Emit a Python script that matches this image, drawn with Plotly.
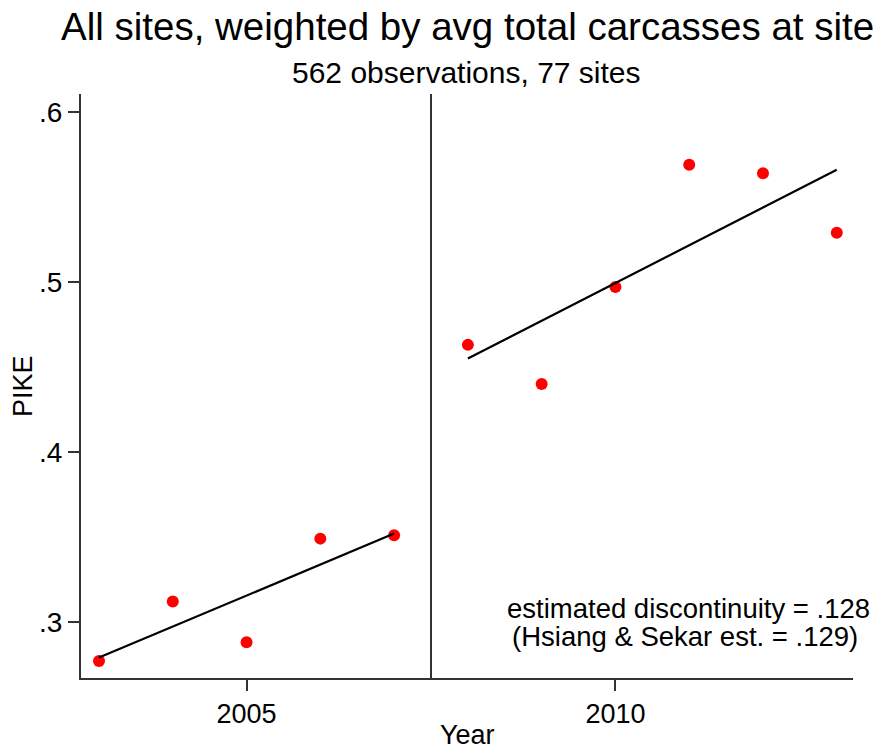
import plotly.graph_objects as go

years = [2003, 2004, 2005, 2006, 2007, 2008, 2009, 2010, 2011, 2012, 2013]
pike = [0.277, 0.312, 0.288, 0.349, 0.351, 0.463, 0.440, 0.497, 0.569, 0.564, 0.529]

fit_pre_x = [2003, 2007]
fit_pre_y = [0.279, 0.352]
fit_post_x = [2008, 2013]
fit_post_y = [0.455, 0.566]

cutoff = 2007.5
ytick_vals = [0.3, 0.4, 0.5, 0.6]
ytick_text = [".3", ".4", ".5", ".6"]
xtick_vals = [2005, 2010]
xtick_text = ["2005", "2010"]

title_text = "All sites, weighted by avg total carcasses at site"
subtitle_text = "562 observations, 77 sites"
note_line1 = "estimated discontinuity = .128"
note_line2 = "(Hsiang &amp; Sekar est. = .129)"

font = "Liberation Sans, Arial, Helvetica, sans-serif"
axc = "#333333"

fig = go.Figure()
fig.add_trace(go.Scatter(x=years, y=pike, mode="markers",
                         marker=dict(color="#ff0000", size=12), showlegend=False))
fig.add_trace(go.Scatter(x=fit_pre_x, y=fit_pre_y, mode="lines",
                         line=dict(color="black", width=2.2), showlegend=False))
fig.add_trace(go.Scatter(x=fit_post_x, y=fit_post_y, mode="lines",
                         line=dict(color="black", width=2.2), showlegend=False))

fig.add_shape(type="line", x0=cutoff, x1=cutoff, y0=0, y1=1, yref="paper", xref="x",
              line=dict(color=axc, width=2))

def ann(text, x, y, size, xanchor="center", textangle=0):
    fig.add_annotation(x=x, y=y, xref="paper", yref="paper", xanchor=xanchor, yanchor="middle",
                       text=text, showarrow=False, textangle=textangle, borderpad=0,
                       font=dict(family=font, size=size, color="black"))

ann(title_text, 0.5006, 1.1156, 38.5)
ann(subtitle_text, 0.4994, 1.0368, 30)
ann(note_line1, 0.787, 0.119, 27.5)
ann(note_line2, 0.783, 0.071, 27.5)
ann("PIKE", -0.075, 0.5, 27, textangle=-90)
ann("Year", 0.5, -0.097, 27)

fig.update_layout(
    width=880, height=752,
    paper_bgcolor="white", plot_bgcolor="white",
    margin=dict(l=81, r=27, t=94, b=74),
    font=dict(family=font, color="black"),
    xaxis=dict(range=[2002.756, 2013.22], tickvals=xtick_vals, ticktext=xtick_text,
               showgrid=False, zeroline=False, showline=True, linecolor=axc, linewidth=2,
               ticks="outside", ticklen=11, tickwidth=2, tickcolor=axc,
               tickfont=dict(size=27, family=font)),
    yaxis=dict(range=[0.267, 0.6106], tickvals=ytick_vals, ticktext=ytick_text,
               showgrid=False, zeroline=False, showline=True, linecolor=axc, linewidth=2,
               ticks="outside", ticklen=11, tickwidth=2, tickcolor=axc,
               tickfont=dict(size=28, family=font)),
)

fig.write_html("out.html", config={"displayModeBar": False},
               post_script="document.body.style.margin='0';document.body.style.overflow='hidden';")
